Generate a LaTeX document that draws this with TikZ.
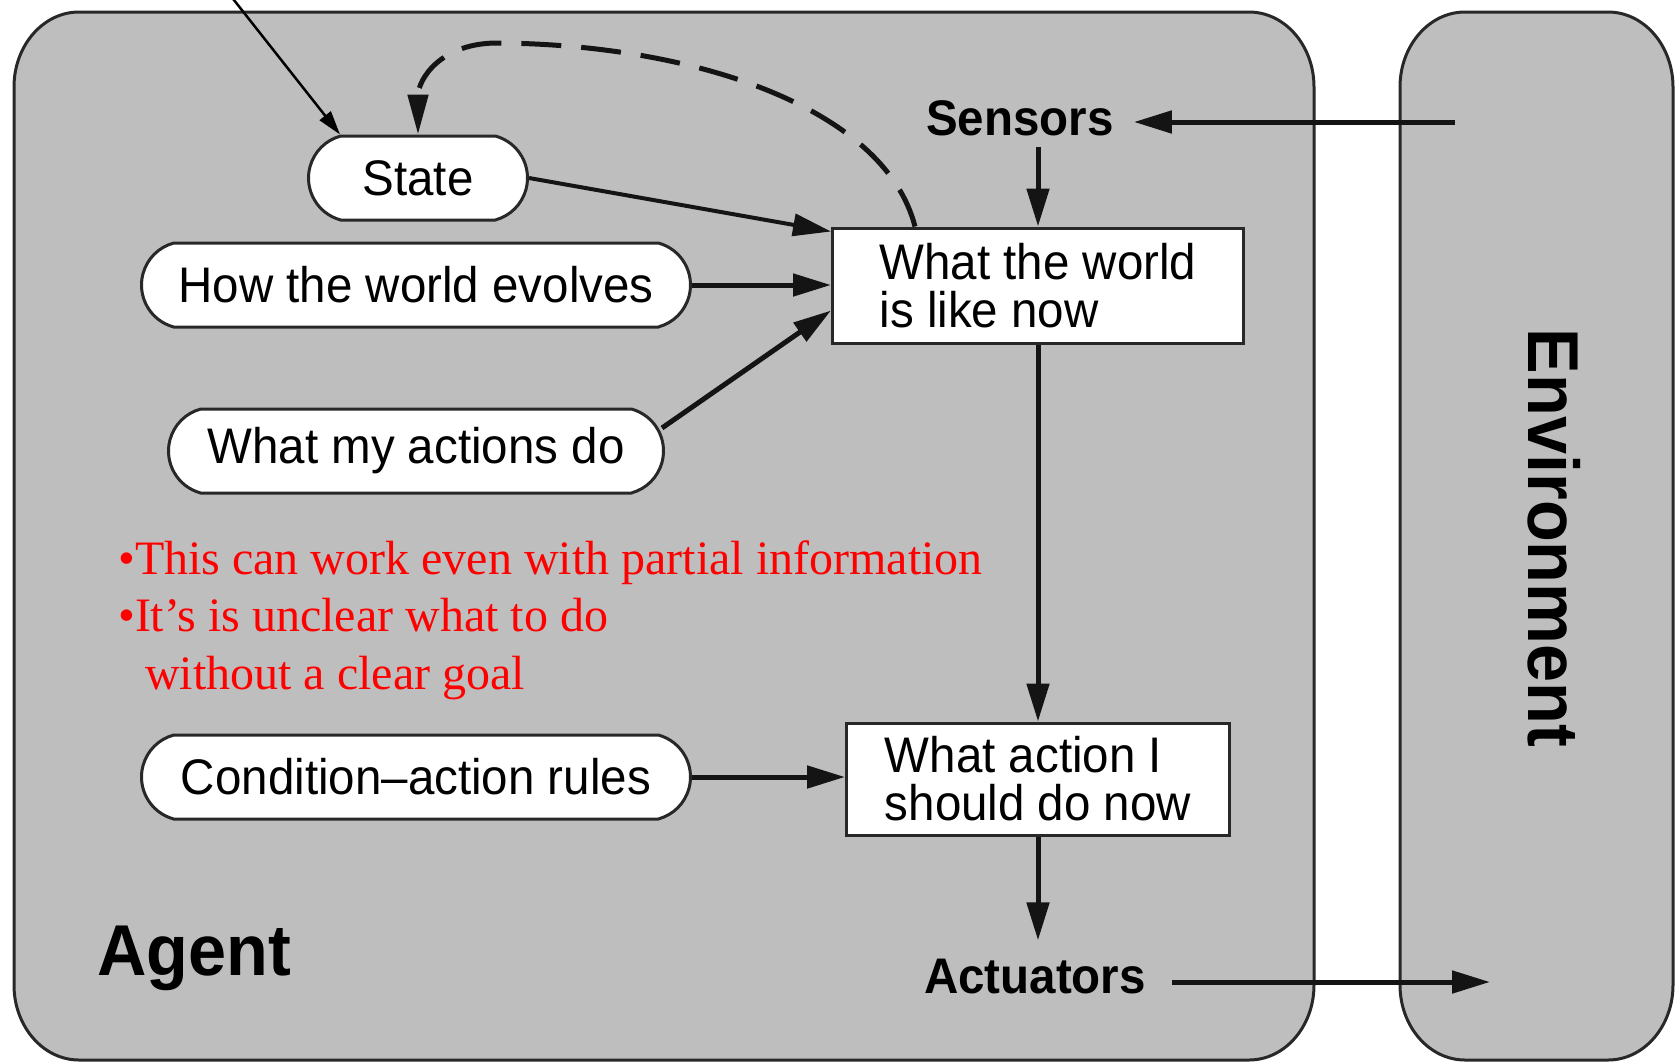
\documentclass[tikz,border=0pt]{standalone}
\usepackage{fontspec}
\setmainfont{Liberation Sans}
\newfontfamily\dfont[FakeStretch=0.95]{Liberation Sans}
\newfontfamily\rfont{Liberation Serif}
\usetikzlibrary{arrows.meta,shapes.misc}
\definecolor{agentgray}{RGB}{190,190,190}
\definecolor{edgec}{RGB}{40,40,40}
\begin{document}
\begin{tikzpicture}[x=1pt,y=-1pt,
  pill/.style={rounded rectangle, rounded rectangle arc length=150, draw=edgec, line width=3pt, fill=white,
    minimum height=84pt, inner sep=0pt, font=\dfont\fontsize{50}{48}\selectfont},
  wbox/.style={rectangle, draw=edgec, line width=3pt, fill=white, align=left, inner sep=0pt,
    font=\dfont\fontsize{50}{48}\selectfont},
  lbl/.style={font=\dfont\bfseries\fontsize{50}{48}\selectfont, inner sep=0pt},
  arr/.style={line width=5pt, draw=black!92, -{Triangle[length=38pt,width=22pt]}},
  note/.style={font=\rfont\fontsize{48}{57}\selectfont, text=red, anchor=base west, inner sep=0pt},
  panel/.style={fill=agentgray, draw=edgec, line width=3pt},
]
\fill[white] (0,0) rectangle (1679,1061);
\useasboundingbox (0,0) rectangle (1679,1061);

% Agent panel
\path[panel] (14,87) .. controls (14,45.6) and (43.1,12) .. (79,12) -- (1249,12)
  .. controls (1284.9,12) and (1314,45.6) .. (1314,87) -- (1314,985)
  .. controls (1314,1026.4) and (1284.9,1060) .. (1249,1060) -- (79,1060)
  .. controls (43.1,1060) and (14,1026.4) .. (14,985) -- cycle;
% Environment panel
\path[panel] (1400,87) .. controls (1400,45.6) and (1429.1,12) .. (1465,12) -- (1608,12)
  .. controls (1643.9,12) and (1673,45.6) .. (1673,87) -- (1673,985)
  .. controls (1673,1026.4) and (1643.9,1060) .. (1608,1060) -- (1465,1060)
  .. controls (1429.1,1060) and (1400,1026.4) .. (1400,985) -- cycle;

% nodes
\node[pill, minimum width=219pt] (state) at (418,178) {State};
\node[pill, minimum width=549pt] (how) at (416,285) {How the world evolves};
\node[pill, minimum width=495pt] (acts) at (416,451) {What my actions do};
\node[pill, minimum width=549pt] (rules) at (416,777) {Condition–action rules};

\node[wbox, minimum width=411pt, minimum height=115pt] (world) at (1038,285.5) {What the world\\is like now};
\node[wbox, minimum width=383pt, minimum height=112pt] (action) at (1038,779) {What action I\\should do now};

\node[lbl] (sensors) at (1020,118) {Sensors};
\node[lbl] (actuators) at (1035,977) {Actuators};

\node[font=\dfont\bfseries\fontsize{72}{72}\selectfont, anchor=base west, inner sep=0pt] (agent) at (97,975) {Agent};
\node[font=\dfont\bfseries\fontsize{72}{72}\selectfont, rotate=-90, inner sep=0pt] (env) at (1554,538) {Environment};

\node[note] (n1) at (118,574) {•This can work even with partial information};
\node[note] (n2) at (118,631) {•It’s is unclear what to do};
\node[note] (n3) at (145,689) {without a clear goal};

% connectors
\coordinate (envS) at (1455,122);
\coordinate (envA) at (1490,982);
\coordinate (topin) at (230,-5);

\draw[arr, shorten >=20pt] (envS) -- (envS -| sensors.east);
\draw[arr, shorten <=11pt] (sensors.south -| world.north) -- (world.north);
\draw[arr] (world.south) -- (action.north);
\draw[arr, shorten >=19pt] (action.south) -- (actuators.north -| action.south);
\draw[arr, shorten <=26pt] (actuators.east |- envA) -- (envA);

\draw[arr, line width=4pt] (state.east) -- ([yshift=-5pt]world.north west);
\draw[arr] (how.east) -- (how.east -| world.west);
\draw[arr] ([xshift=-3pt,yshift=23pt]acts.east) -- ([yshift=-25pt]world.west);
\draw[arr] (rules.east) -- (rules.east -| action.west);

\draw[line width=5pt, draw=black!92, dash pattern=on 40pt off 20pt, -{Triangle[length=40pt,width=20pt]}]
  ([xshift=-123pt]world.north) .. controls (885,110) and (700,45) .. (500,43)
  .. controls (440,42) and (418,80) .. (state.north);

\draw[line width=2.5pt, -{Triangle[length=24pt,width=14pt]}] (topin) -- ([xshift=-78pt]state.north);
\end{tikzpicture}
\end{document}
